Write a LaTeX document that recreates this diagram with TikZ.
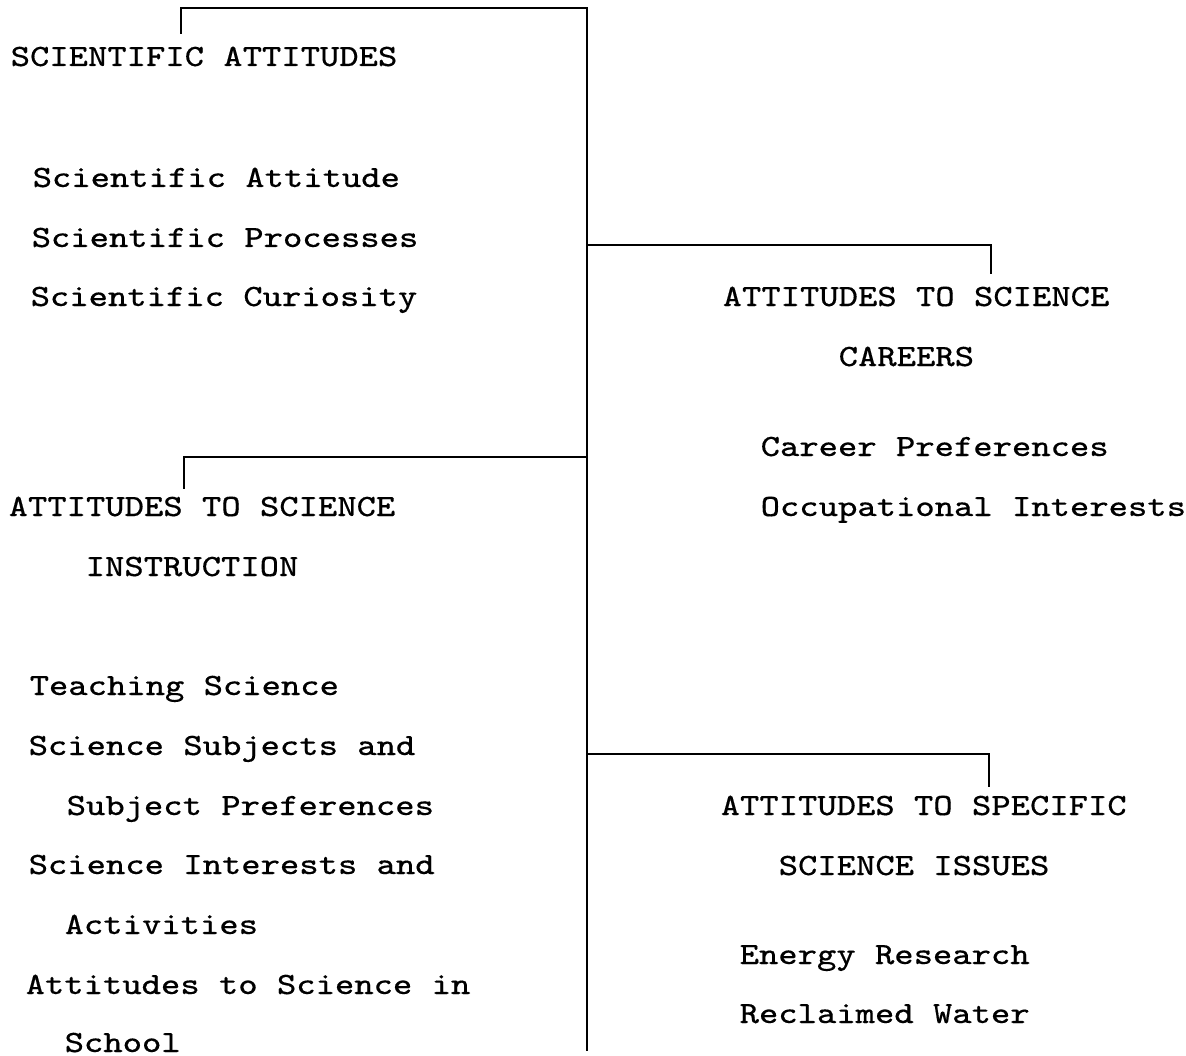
\documentclass[tikz,border=0pt]{standalone}
\usepackage{fontspec}
\setmonofont{Latin Modern Mono}[FakeStretch=1.19, FakeBold=0.35]
\usetikzlibrary{positioning}
\tikzset{
  typed/.style={anchor=base west, inner sep=0pt, font=\ttfamily\fontsize{8.8}{11}\selectfont},
  branch/.style={line width=0.6pt, line cap=rect},
}

\begin{document}
\begin{tikzpicture}[x=0.01cm, y=-0.01cm]
    \useasboundingbox (0,0) rectangle (1186,1055);

    % ── TRUNK ──────────────────────────────────────────────────────────
    \coordinate (top) at (587,8);
    \coordinate (bot) at (587,1050);
    \coordinate (jcar) at (587,245);
    \coordinate (jins) at (587,457);
    \coordinate (jiss) at (587,754);

    % ── SCIENTIFIC ATTITUDES ──────────────────────────────────────────
    \node[typed] (sa) at (10,66) {SCIENTIFIC ATTITUDES};
    \node[typed] (sa1) at (32,187) {Scientific Attitude};
    \node[typed] (sa2) at (31,247) {Scientific Processes};
    \node[typed] (sa3) at (30,306) {Scientific Curiosity};
    \coordinate (dsa) at (181,33);

    % ── SCIENCE CAREERS ───────────────────────────────────────────────
    \node[typed] (car) at (722,306) {ATTITUDES TO SCIENCE};
    \node[typed] (car2) at (838,366) {CAREERS};
    \node[typed] (car3) at (760,456) {Career Preferences};
    \node[typed] (car4) at (760,516) {Occupational Interests};
    \coordinate (dcar) at (991,273);

    % ── SCIENCE INSTRUCTION ───────────────────────────────────────────
    \node[typed] (ins) at (8,516) {ATTITUDES TO SCIENCE};
    \node[typed] (ins2) at (85,576) {INSTRUCTION};
    \node[typed] (ins3) at (29,695) {Teaching Science};
    \node[typed] (ins4) at (28,755) {Science Subjects and};
    \node[typed] (ins5) at (66,815) {Subject Preferences};
    \node[typed] (ins6) at (28,874) {Science Interests and};
    \node[typed] (ins7) at (64,934) {Activities};
    \node[typed] (ins8) at (25,994) {Attitudes to Science in};
    \node[typed] (ins9) at (64,1052) {School};
    \coordinate (dins) at (184,488);

    % ── SPECIFIC ISSUES ───────────────────────────────────────────────
    \node[typed] (iss) at (720,815) {ATTITUDES TO SPECIFIC};
    \node[typed] (iss2) at (778,875) {SCIENCE ISSUES};
    \node[typed] (iss3) at (739,964) {Energy Research};
    \node[typed] (iss4) at (739,1023) {Reclaimed Water};
    \coordinate (diss) at (989,786);

    % connectors
    \draw[branch] (bot) -- (top) -| (dsa);
    \draw[branch] (jcar) -| (dcar);
    \draw[branch] (jins) -| (dins);
    \draw[branch] (jiss) -| (diss);
\end{tikzpicture}
\end{document}
